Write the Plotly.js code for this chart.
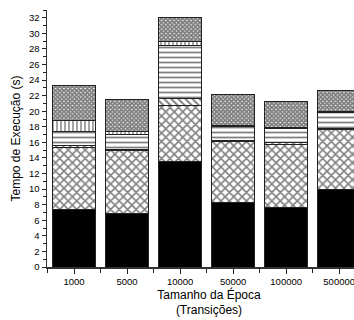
<!DOCTYPE html>
<html>
<head>
<meta charset="utf-8">
<script src="https://cdn.plot.ly/plotly-3.0.1.min.js"></script>
<style>
  html, body { margin: 0; padding: 0; overflow: hidden; background: #fff; }
  #chart { width: 380px; height: 320px; }
</style>
</head>
<body>
<div id="chart"></div>
<script>
// Epoch sizes (number of transitions)
const epochSizes = ['1000', '5000', '10000', '50000', '100000', '500000'];

// Execution time components (seconds), stacked bottom to top
const solidPart    = [7.4, 6.9, 13.5, 8.25, 7.7, 9.9];
const crossPart    = [7.9, 8.1, 7.3, 7.85, 8.05, 7.7];
const diagonalPart = [0.25, 0.1, 0.8, 0.1, 0.25, 0.2];
const horizPart    = [1.85, 1.95, 6.9, 1.9, 1.8, 2.1];
const vertPart     = [1.4, 0.3, 0.4, 0.1, 0.1, 0.1];
const checkerPart  = [4.5, 4.15, 3.1, 4.0, 3.4, 2.6];

const yTicks = [0, 2, 4, 6, 8, 10, 12, 14, 16, 18, 20, 22, 24, 26, 28, 30, 32];

const xPos = epochSizes.map((_, i) => i);
const outline = { color: '#222', width: 1 };

function layer(values, pattern, fill) {
  const marker = { color: fill || 'white', line: outline };
  if (pattern) {
    marker.pattern = Object.assign({ fgcolor: 'black', bgcolor: 'white', fillmode: 'overlay' }, pattern);
  }
  return { type: 'bar', x: xPos, y: values, marker: marker, hoverinfo: 'skip', showlegend: false };
}

const traces = [
  layer(solidPart, null, 'black'),
  layer(crossPart, { shape: 'x', size: 6, solidity: 0.45 }),
  layer(diagonalPart, { shape: '\\', size: 5, solidity: 0.4 }),
  layer(horizPart, { shape: '-', size: 5, solidity: 0.35 }),
  layer(vertPart, { shape: '|', size: 4, solidity: 0.35 }),
  layer(checkerPart, { shape: 'x', size: 3, solidity: 0.85 })
];

const font = { family: 'Liberation Sans, Arial, sans-serif', color: 'black' };

const layout = {
  width: 380,
  height: 320,
  margin: { l: 47, r: 9, t: 10, b: 53 },
  barmode: 'stack',
  bargap: 0.19,
  paper_bgcolor: 'white',
  plot_bgcolor: 'white',
  font: Object.assign({ size: 9.5 }, font),
  xaxis: {
    range: [-0.51, 5.6],
    tickmode: 'array',
    tickvals: xPos,
    ticktext: epochSizes,
    ticks: 'outside',
    ticklen: 5,
    tickwidth: 1,
    tickcolor: '#222',
    minor: { tick0: 0.5, dtick: 1, ticks: 'outside', ticklen: 4, tickwidth: 1, tickcolor: '#222' },
    showline: true,
    linecolor: '#333',
    linewidth: 1.5,
    showgrid: false,
    zeroline: false,
    tickfont: Object.assign({ size: 9.5 }, font),
    title: {
      text: 'Tamanho da Época<br>(Transições)',
      font: Object.assign({ size: 12 }, font),
      standoff: 0
    }
  },
  yaxis: {
    range: [0, 33],
    tickmode: 'array',
    tickvals: yTicks,
    ticks: 'outside',
    ticklen: 4,
    tickwidth: 1,
    tickcolor: '#222',
    minor: { tick0: 1, dtick: 2, ticks: 'outside', ticklen: 3, tickwidth: 1, tickcolor: '#222' },
    showline: true,
    linecolor: '#333',
    linewidth: 1.5,
    showgrid: false,
    zeroline: false,
    tickfont: Object.assign({ size: 9.5 }, font),
    title: {
      text: 'Tempo de Execução (s)',
      font: Object.assign({ size: 12 }, font),
      standoff: 6
    }
  }
};

Plotly.newPlot('chart', traces, layout, { displayModeBar: false, staticPlot: true });
</script>
</body>
</html>
